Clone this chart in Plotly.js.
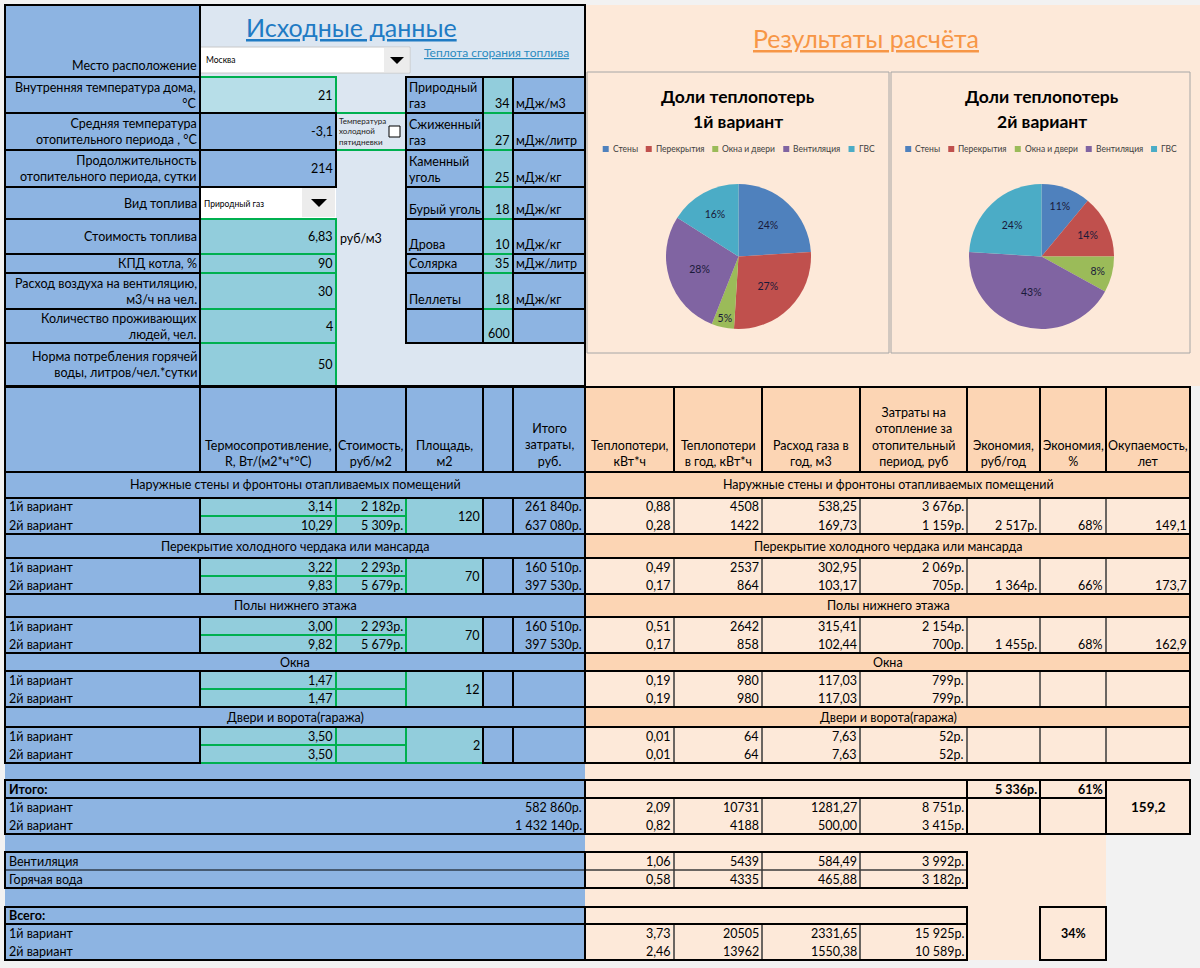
<!DOCTYPE html>
<html><head><meta charset="utf-8">
<script src="https://cdn.plot.ly/plotly-3.0.1.min.js"></script>
<style>html,body{margin:0;padding:0;background:#f2f2f2;}#chart{width:1200px;height:968px;}</style>
</head><body><div id="chart"></div>
<script>
// ================= DATA =================
const inputTitle = 'Исходные данные';
const resultTitle = 'Результаты расчёта';
const heatLinkText = 'Теплота сгорания топлива';
const locationLabel = 'Место расположение';
const locationName = 'Москва';
const inputLabels = [
  'Внутренняя температура дома,<br>°С',
  'Средняя температура<br>отопительного периода , °С',
  'Продолжительность<br>отопительного периода, сутки',
  'Вид топлива',
  'Стоимость топлива',
  'КПД котла, %',
  'Расход воздуха на вентиляцию,<br>м3/ч на чел.',
  'Количество проживающих<br>людей, чел.',
  'Норма потребления горячей<br>воды, литров/чел.*сутки'
];
const inputValues = [21, -3.1, 214, 'Природный газ', 6.83, 90, 30, 4, 50];
const fuelCostUnit = 'руб/м3';
const coldFiveDaysLabel = 'Температура<br>холодной<br>пятидневки';
const fuelNames = ['Природный<br>газ', 'Сжиженный<br>газ', 'Каменный<br>уголь', 'Бурый уголь', 'Дрова', 'Солярка', 'Пеллеты', ''];
const fuelHeat = [34, 27, 25, 18, 10, 35, 18, 600];
const fuelUnits = ['мДж/м3', 'мДж/литр', 'мДж/кг', 'мДж/кг', 'мДж/кг', 'мДж/литр', 'мДж/кг', ''];

const leftHeaders = ['', 'Термосопротивление,<br>R, Вт/(м2*ч*°С)', 'Стоимость,<br>руб/м2', 'Площадь,<br>м2', '', 'Итого<br>затраты,<br>руб.'];
const rightHeaders = ['Теплопотери,<br>кВт*ч', 'Теплопотери<br>в год, кВт*ч', 'Расход газа в<br>год, м3', 'Затраты на<br>отопление за<br>отопительный<br>период, руб', 'Экономия,<br>руб/год', 'Экономия,<br>%', 'Окупаемость,<br>лет'];
const sectionNames = ['Наружные стены и фронтоны отапливаемых помещений', 'Перекрытие холодного чердака или мансарда', 'Полы нижнего этажа', 'Окна', 'Двери и ворота(гаража)'];
const variantNames = ['1й вариант', '2й вариант'];

const R1 = [3.14, 3.22, 3.00, 1.47, 3.50];
const R2 = [10.29, 9.83, 9.82, 1.47, 3.50];
const cost1 = [2182, 2293, 2293, null, null];
const cost2 = [5309, 5679, 5679, null, null];
const areas = [120, 70, 70, 12, 2];
const total1 = [261840, 160510, 160510, null, null];
const total2 = [637080, 397530, 397530, null, null];
const loss1 = [0.88, 0.49, 0.51, 0.19, 0.01];
const loss2 = [0.28, 0.17, 0.17, 0.19, 0.01];
const lossYear1 = [4508, 2537, 2642, 980, 64];
const lossYear2 = [1422, 864, 858, 980, 64];
const gas1 = [538.25, 302.95, 315.41, 117.03, 7.63];
const gas2 = [169.73, 103.17, 102.44, 117.03, 7.63];
const heat1 = [3676, 2069, 2154, 799, 52];
const heat2 = [1159, 705, 700, 799, 52];
const saveRub = [2517, 1364, 1455, null, null];
const savePct = [68, 66, 68, null, null];
const payback = [149.1, 173.7, 162.9, null, null];

const itogoLabel = 'Итого:';
const itogoCost = [582860, 1432140];
const itogoLoss = [2.09, 0.82];
const itogoLossYear = [10731, 4188];
const itogoGas = [1281.27, 500.00];
const itogoHeat = [8751, 3415];
const itogoSaveRub = 5336;
const itogoSavePct = 61;
const itogoPayback = 159.2;

const extraNames = ['Вентиляция', 'Горячая вода'];
const extraLoss = [1.06, 0.58];
const extraLossYear = [5439, 4335];
const extraGas = [584.49, 465.88];
const extraHeat = [3992, 3182];

const vsegoLabel = 'Всего:';
const vsegoLoss = [3.73, 2.46];
const vsegoLossYear = [20505, 13962];
const vsegoGas = [2331.65, 1550.38];
const vsegoHeat = [15925, 10589];
const vsegoSavePct = 34;

const pieTitles = [['Доли теплопотерь', '1й вариант'], ['Доли теплопотерь', '2й вариант']];
const pieLabels = ['Стены', 'Перекрытия', 'Окна и двери', 'Вентиляция', 'ГВС'];
const pieColors = ['#4F81BD', '#C0504D', '#9BBB59', '#8064A2', '#4BACC6'];
const pie1Values = [24, 27, 5, 28, 16];
const pie2Values = [11, 14, 8, 43, 24];

// ================= STYLE / GEOMETRY =================
const F = 'Lato, "Noto Sans", sans-serif';
const FS = 12.5;
const BLUE = '#8db4e2', LIGHT = '#dce6f1', TEAL = '#92cddc', LTEAL = '#b7dee8';
const PEACH = '#fde9d9', HPEACH = '#fcd5b4', GREEN = '#00b050', BLACK = '#000000', THIN = '#3a3a3a';
const W = 1200, H = 968;

const LBL_ROWS = [[5,77],[77,113],[113,150],[150,187],[187,219],[219,254],[254,273],[273,309],[309,343],[343,386]];
const FUEL_ROWS = [[77,113],[113,150],[150,187],[187,219],[219,254],[254,273],[273,309],[309,343]];
const LC = [5, 200, 336, 406, 483, 513, 585];
const RC = [585, 674, 762, 860, 967, 1040, 1106, 1190];
const HEAD = [387, 472];
const SEC_TITLE = [[472,498],[534,558],[594,617],[653,671],[707,727]];
const SEC_DATA = [[498,534],[558,594],[617,653],[671,707],[727,763]];
const ITOGO = [780, 798, 834];
const EXTRA = [852, 870, 888];
const VSEGO = [907, 924, 960];
const CHARTS = [[587,72,889,353],[891,72,1190,353]];
const PIE_BOX = [[666,184,811,329],[969,184,1114,329]];

// ================= HELPERS =================
const fills = [], thinL = [], greenL = [], blackL = [], overlay = [], ann = [];
const X = v => v / W, Y = v => 1 - v / H;
function rect(arr, x0, y0, x1, y1, fill, lc, lw) {
  arr.push({type:'rect', xref:'paper', yref:'paper', x0:X(x0), x1:X(x1), y0:Y(y0), y1:Y(y1),
    fillcolor: fill || 'rgba(0,0,0,0)', line:{color: lc || 'rgba(0,0,0,0)', width: lw || 0}, layer:'below'});
}
const fillR = (x0,y0,x1,y1,c) => rect(fills,x0,y0,x1,y1,c);
const bBox = (x0,y0,x1,y1,w) => rect(blackL,x0,y0,x1,y1,null,BLACK,w||2);
const gBox = (x0,y0,x1,y1) => rect(greenL,x0,y0,x1,y1,null,GREEN,2);
const tBox = (x0,y0,x1,y1) => rect(thinL,x0,y0,x1,y1,null,THIN,1);
function line(arr,x0,y0,x1,y1,c,w){arr.push({type:'line',xref:'paper',yref:'paper',x0:X(x0),x1:X(x1),y0:Y(y0),y1:Y(y1),line:{color:c,width:w},layer:'below'});}
function txt(x, y, t, o) {
  o = o || {};
  const xa = o.xa || 'left';
  ann.push({xref:'paper', yref:'paper', x:X(x), y:Y(y), text:t, showarrow:false,
    xanchor:xa, yanchor:o.ya || 'middle', align: o.al || xa, borderpad:0,
    font:{family:o.f || F, size:o.s || FS, color:o.c || '#000'}});
}
const dec = (v, n) => v.toFixed(n).replace('.', ',');
const grp = v => String(Math.round(v)).replace(/\B(?=(\d{3})+(?!\d))/g, ' ');
const rub = v => grp(v) + 'р.';
const num = v => String(v).replace('.', ',');

// ================= TOP LEFT: inputs =================
fillR(5,5,200,386,BLUE);
fillR(200,5,585,386,LIGHT);
LBL_ROWS.forEach(r => bBox(5,r[0],200,r[1]));
txt(198, 66, locationLabel, {xa:'right'});
txt(351, 27, '<u>' + inputTitle + '</u>', {xa:'center', s:25, c:'#1f7bc4'});
txt(496, 52, '<u>' + heatLinkText + '</u>', {xa:'center', s:12, c:'#2b8bc0'});

rect(fills,200,47,410,73,'#ffffff','#c8c8c8',1);
rect(fills,384,48,409,72,'#ececec');
txt(205, 60, locationName, {s:8.5});
overlay.push({type:'path', xref:'paper', yref:'paper', path:`M ${X(390)} ${Y(57)} L ${X(404)} ${Y(57)} L ${X(397)} ${Y(64)} Z`, fillcolor:'#000', line:{width:0}, layer:'below'});

inputLabels.forEach((lab, i) => {
  const r = LBL_ROWS[i + 1], mid = (r[0] + r[1]) / 2;
  txt(198, mid, lab, {xa:'right'});
  const v = inputValues[i];
  if (i === 0) { fillR(200,r[0],336,r[1],LTEAL); gBox(200,r[0],336,r[1]); }
  else if (i === 1 || i === 2) { fillR(200,r[0],336,r[1],BLUE); bBox(200,r[0],336,r[1]); }
  else if (i === 3) {
    rect(fills,199,r[0]+1,336,r[1],'#ffffff');
    rect(fills,302,r[0]+1,335,r[1]-2,'#ececec');
    overlay.push({type:'path', xref:'paper', yref:'paper', path:`M ${X(311)} ${Y(199)} L ${X(327)} ${Y(199)} L ${X(319)} ${Y(207)} Z`, fillcolor:'#000', line:{width:0}, layer:'below'});
    txt(203, mid + 1, v, {s:8.5});
  } else { fillR(200,r[0],336,r[1],TEAL); gBox(200,r[0],336,r[1]); }
  if (i !== 3) txt(334, mid, num(v), {xa:'right'});
});
fillR(336,113,406,150,LIGHT); gBox(336,113,406,150);
txt(338, 131, coldFiveDaysLabel, {s:8, c:'#222'});
rect(overlay,389,126,400,137,'#ffffff','#000',1);
txt(339, 238, fuelCostUnit);

FUEL_ROWS.forEach((r, i) => {
  fillR(406,r[0],483,r[1],BLUE); fillR(483,r[0],513,r[1],TEAL); fillR(513,r[0],585,r[1],BLUE);
  bBox(406,r[0],483,r[1]); bBox(513,r[0],585,r[1]);
  line(greenL,483,r[0],513,r[0],GREEN,2); line(greenL,483,r[1],513,r[1],GREEN,2);
  txt(408, r[1] - 1, fuelNames[i], {ya:'bottom'});
  txt(511, r[1] - 1, String(fuelHeat[i]), {xa:'right', ya:'bottom'});
  txt(515, r[1] - 1, fuelUnits[i], {ya:'bottom'});
});
line(greenL,483,77,483,343,GREEN,2); line(greenL,513,77,513,343,GREEN,2);
bBox(406,77,585,343);
bBox(5,5,585,386);

// ================= TOP RIGHT: charts =================
fillR(585,5,1200,386,PEACH);
txt(866, 38, '<u>' + resultTitle + '</u>', {xa:'center', s:25, c:'#f79646'});

const measure = document.createElement('canvas').getContext('2d');
measure.font = '8.5px Lato';
CHARTS.forEach((c, k) => {
  rect(fills,c[0],c[1],c[2],c[3],PEACH,'#a6a6a6',1);
  const cx = (PIE_BOX[k][0] + PIE_BOX[k][2]) / 2;
  txt(cx, 96, '<b>' + pieTitles[k][0] + '</b>', {xa:'center', s:17.5});
  txt(cx, 121, '<b>' + pieTitles[k][1] + '</b>', {xa:'center', s:17.5});
  const widths = pieLabels.map(l => 6 + 3 + measure.measureText(l).width);
  const gap = 9;
  const total = widths.reduce((a, b) => a + b, 0) + gap * (pieLabels.length - 1);
  let x = (c[0] + c[2]) / 2 - total / 2;
  pieLabels.forEach((l, j) => {
    rect(overlay, x, 146, x + 6, 152, pieColors[j]);
    txt(x + 9, 149, l, {s:8.5, c:'#404040'});
    x += widths[j] + gap;
  });
});

// ================= BOTTOM TABLE =================
fillR(5,387,585,960,BLUE);
fillR(585,387,1190,834,PEACH);
fillR(585,834,1106,960,PEACH);

leftHeaders.forEach((h, j) => {
  bBox(LC[j],HEAD[0],LC[j+1],HEAD[1]);
  if (h) txt((LC[j]+LC[j+1])/2, HEAD[1]-2, h, {xa:'center', ya:'bottom'});
});
rightHeaders.forEach((h, j) => {
  fillR(RC[j],HEAD[0],RC[j+1],HEAD[1],HPEACH);
  bBox(RC[j],HEAD[0],RC[j+1],HEAD[1]);
  txt((RC[j]+RC[j+1])/2, HEAD[1]-2, h, {xa:'center', ya:'bottom'});
});

sectionNames.forEach((name, i) => {
  const t = SEC_TITLE[i], d = SEC_DATA[i], dm = (d[0] + d[1]) / 2;
  const y1 = (d[0] + dm) / 2, y2 = (dm + d[1]) / 2;
  bBox(5,t[0],585,t[1]);
  fillR(585,t[0],1190,t[1],HPEACH); bBox(585,t[0],1190,t[1]);
  txt(295, (t[0]+t[1])/2, name, {xa:'center'});
  txt(888, (t[0]+t[1])/2, name, {xa:'center'});
  bBox(5,d[0],200,d[1]);
  txt(8, y1, variantNames[0]); txt(8, y2, variantNames[1]);
  [[200,336],[336,406]].forEach(cc => {
    fillR(cc[0],d[0],cc[1],d[1],TEAL);
    gBox(cc[0],d[0],cc[1],dm); gBox(cc[0],dm,cc[1],d[1]);
  });
  fillR(406,d[0],483,d[1],TEAL); gBox(406,d[0],483,d[1]);
  bBox(483,d[0],513,d[1]); bBox(513,d[0],585,d[1]);
  txt(334, y1, dec(R1[i],2), {xa:'right'}); txt(334, y2, dec(R2[i],2), {xa:'right'});
  if (cost1[i] !== null) { txt(404, y1, rub(cost1[i]), {xa:'right'}); txt(404, y2, rub(cost2[i]), {xa:'right'}); }
  txt(481, dm, String(areas[i]), {xa:'right'});
  if (total1[i] !== null) { txt(583, y1, rub(total1[i]), {xa:'right'}); txt(583, y2, rub(total2[i]), {xa:'right'}); }
  for (let j = 0; j < 7; j++) tBox(RC[j],d[0],RC[j+1],d[1]);
  bBox(585,d[0],1190,d[1]);
  const cols1 = [dec(loss1[i],2), String(lossYear1[i]), dec(gas1[i],2), rub(heat1[i])];
  const cols2 = [dec(loss2[i],2), String(lossYear2[i]), dec(gas2[i],2), rub(heat2[i])];
  cols1.forEach((v, j) => txt(RC[j+1]-2, y1, v, {xa:'right'}));
  cols2.forEach((v, j) => txt(RC[j+1]-2, y2, v, {xa:'right'}));
  if (saveRub[i] !== null) {
    txt(RC[5]-2, y2, rub(saveRub[i]), {xa:'right'});
    txt(RC[6]-2, y2, savePct[i] + '%', {xa:'right'});
    txt(RC[7]-2, y2, dec(payback[i],1), {xa:'right'});
  }
});

{
  const [a, b, c] = ITOGO, r1 = (b + (b + c) / 2) / 2, r2 = ((b + c) / 2 + c) / 2;
  bBox(5,a,585,c); line(blackL,5,b,585,b,BLACK,2);
  txt(8, (a+b)/2, '<b>' + itogoLabel + '</b>');
  txt(8, r1, variantNames[0]); txt(8, r2, variantNames[1]);
  txt(583, r1, rub(itogoCost[0]), {xa:'right'}); txt(583, r2, rub(itogoCost[1]), {xa:'right'});
  for (let j = 0; j < 4; j++) tBox(RC[j],b,RC[j+1],c);
  bBox(585,a,1190,c); line(blackL,585,b,1106,b,BLACK,2);
  bBox(967,a,1040,b); bBox(1040,a,1106,b); bBox(967,b,1040,c); bBox(1040,b,1106,c); bBox(1106,a,1190,c);
  const L1 = [dec(itogoLoss[0],2), String(itogoLossYear[0]), dec(itogoGas[0],2), rub(itogoHeat[0])];
  const L2 = [dec(itogoLoss[1],2), String(itogoLossYear[1]), dec(itogoGas[1],2), rub(itogoHeat[1])];
  L1.forEach((v, j) => txt(RC[j+1]-2, r1, v, {xa:'right'}));
  L2.forEach((v, j) => txt(RC[j+1]-2, r2, v, {xa:'right'}));
  txt(1038, (a+b)/2, '<b>' + rub(itogoSaveRub) + '</b>', {xa:'right'});
  txt(1104, (a+b)/2, '<b>' + itogoSavePct + '%</b>', {xa:'right'});
  txt(1148, (b+c)/2 - 9, '<b>' + dec(itogoPayback,1) + '</b>', {xa:'center', s:13.5});
}

{
  const [a, b, c] = EXTRA;
  bBox(5,a,585,c); line(blackL,5,b,585,b,BLACK,1);
  txt(8, (a+b)/2, extraNames[0]); txt(8, (b+c)/2, extraNames[1]);
  for (let j = 0; j < 4; j++) { tBox(RC[j],a,RC[j+1],b); tBox(RC[j],b,RC[j+1],c); }
  bBox(585,a,967,c);
  [0,1].forEach(k => {
    const yy = k ? (b+c)/2 : (a+b)/2;
    [dec(extraLoss[k],2), String(extraLossYear[k]), dec(extraGas[k],2), rub(extraHeat[k])]
      .forEach((v, j) => txt(RC[j+1]-2, yy, v, {xa:'right'}));
  });
}

{
  const [a, b, c] = VSEGO, m = (b + c) / 2;
  bBox(5,a,585,c); line(blackL,5,b,585,b,BLACK,2);
  txt(8, (a+b)/2, '<b>' + vsegoLabel + '</b>');
  txt(8, (b+m)/2, variantNames[0]); txt(8, (m+c)/2, variantNames[1]);
  for (let j = 0; j < 4; j++) tBox(RC[j],b,RC[j+1],c);
  bBox(585,a,967,c); line(blackL,585,b,967,b,BLACK,2);
  [0,1].forEach(k => {
    const yy = k ? (m+c)/2 : (b+m)/2;
    [dec(vsegoLoss[k],2), String(vsegoLossYear[k]), dec(vsegoGas[k],2), rub(vsegoHeat[k])]
      .forEach((v, j) => txt(RC[j+1]-2, yy, v, {xa:'right'}));
  });
  bBox(1040,a,1106,c);
  txt(1073, (a+c)/2, '<b>' + vsegoSavePct + '%</b>', {xa:'center'});
}

// ================= PIES =================
function pieTrace(values, k) {
  const p = PIE_BOX[k];
  return {
    type:'pie', labels:pieLabels, values:values, sort:false, direction:'clockwise', rotation:0,
    marker:{colors:pieColors, line:{width:0}},
    textposition:'inside', insidetextorientation:'horizontal', texttemplate:'%{value}%',
    textfont:{family:F, size:10.5, color:'#1a1a3a'},
    hoverinfo:'skip', showlegend:false,
    domain:{x:[X(p[0]), X(p[2])], y:[Y(p[3]), Y(p[1])]}
  };
}

const data = [pieTrace(pie1Values, 0), pieTrace(pie2Values, 1)];
const layout = {
  width:W, height:H, margin:{l:0, r:0, t:0, b:0},
  paper_bgcolor:'#f2f2f2', plot_bgcolor:'rgba(0,0,0,0)',
  font:{family:F, size:FS, color:'#000'},
  showlegend:false,
  shapes: fills.concat(thinL, greenL, blackL, overlay),
  annotations: ann
};
Plotly.newPlot('chart', data, layout, {staticPlot:true, displayModeBar:false});
</script>
</body></html>
